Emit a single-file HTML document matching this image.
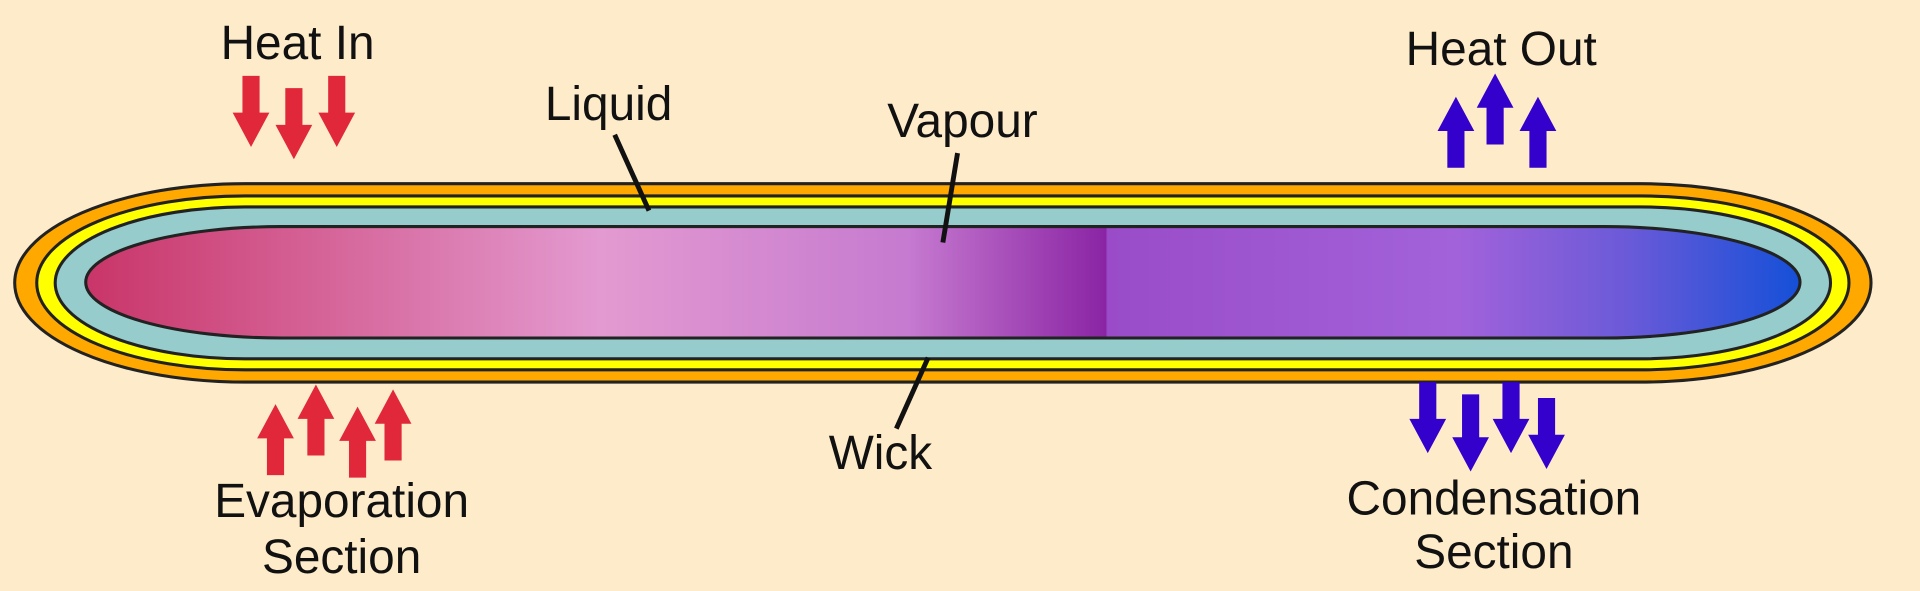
<!DOCTYPE html>
<html><head><style>html,body{margin:0;padding:0;background:#fdebc9;}svg{display:block}</style></head>
<body>
<svg width="1920" height="591" viewBox="0 0 1568 482.6" preserveAspectRatio="none" xmlns="http://www.w3.org/2000/svg">
<defs>
<linearGradient id="g" x1="70" x2="1470" y1="0" y2="0" gradientUnits="userSpaceOnUse">
<stop offset="0" stop-color="#c93568"/>
<stop offset="0.3" stop-color="#e39ad0"/>
<stop offset="0.48" stop-color="#c67ad0"/>
<stop offset="0.595" stop-color="#8a24a4"/>
<stop offset="0.596" stop-color="#9a4cc8"/>
<stop offset="0.8" stop-color="#a262da"/>
<stop offset="0.9" stop-color="#6a5ad8"/>
<stop offset="1" stop-color="#1450d8"/>
</linearGradient>
</defs>
<rect width="1568" height="483" fill="#fdebc9"/>
<g stroke="#222" stroke-width="2.5">
<path d="M200,150 H1340 A188,81 0 0 1 1340,312 H200 A188,81 0 0 1 200,150 Z" fill="#ffa800"/>
<path d="M200,160 H1340 A170,71 0 0 1 1340,302 H200 A170,71 0 0 1 200,160 Z" fill="#ffff00"/>
<path d="M200,169 H1340 A155,62 0 0 1 1340,293 H200 A155,62 0 0 1 200,169 Z" fill="#96cccc"/>
<path d="M230,185 H1310 A160,45.5 0 0 1 1310,276 H230 A160,45.5 0 0 1 230,185 Z" fill="url(#g)"/>
</g>
<g stroke="#111" stroke-width="4">
<line x1="502" y1="110" x2="530" y2="172"/>
<line x1="782" y1="125" x2="770" y2="198"/>
<line x1="758" y1="292" x2="732" y2="350"/>
</g>
<g fill="#e0283a">
<path d="M198,62 h14 v30 h8 l-15,28 l-15,-28 h8z"/>
<path d="M233,72 h14 v30 h8 l-15,28 l-15,-28 h8z"/>
<path d="M268,62 h14 v30 h8 l-15,28 l-15,-28 h8z"/>
<path d="M218,388 h14 v-30 h8 l-15,-28 l-15,28 h8z"/>
<path d="M251,372 h14 v-30 h8 l-15,-28 l-15,28 h8z"/>
<path d="M285,390 h14 v-30 h8 l-15,-28 l-15,28 h8z"/>
<path d="M314,376 h14 v-30 h8 l-15,-28 l-15,28 h8z"/>
</g>
<g fill="#3300cc">
<path d="M1182,137 h14 v-30 h8 l-15,-28 l-15,28 h8z"/>
<path d="M1214,118 h14 v-30 h8 l-15,-28 l-15,28 h8z"/>
<path d="M1249,137 h14 v-30 h8 l-15,-28 l-15,28 h8z"/>
<path d="M1159,312 h14 v30 h8 l-15,28 l-15,-28 h8z"/>
<path d="M1194,322 h14 v35 h8 l-15,28 l-15,-28 h8z"/>
<path d="M1227,312 h14 v30 h8 l-15,28 l-15,-28 h8z"/>
<path d="M1256,325 h14 v30 h8 l-15,28 l-15,-28 h8z"/>
</g>
<g font-family="Liberation Sans, sans-serif" font-size="39" fill="#111" text-anchor="middle">
<text x="243" y="48">Heat In</text>
<text x="1226" y="53">Heat Out</text>
<text x="497" y="98">Liquid</text>
<text x="786" y="112">Vapour</text>
<text x="719" y="383">Wick</text>
<text x="279" y="422">Evaporation</text>
<text x="279" y="468">Section</text>
<text x="1220" y="420">Condensation</text>
<text x="1220" y="464">Section</text>
</g>
</svg>
</body></html>
